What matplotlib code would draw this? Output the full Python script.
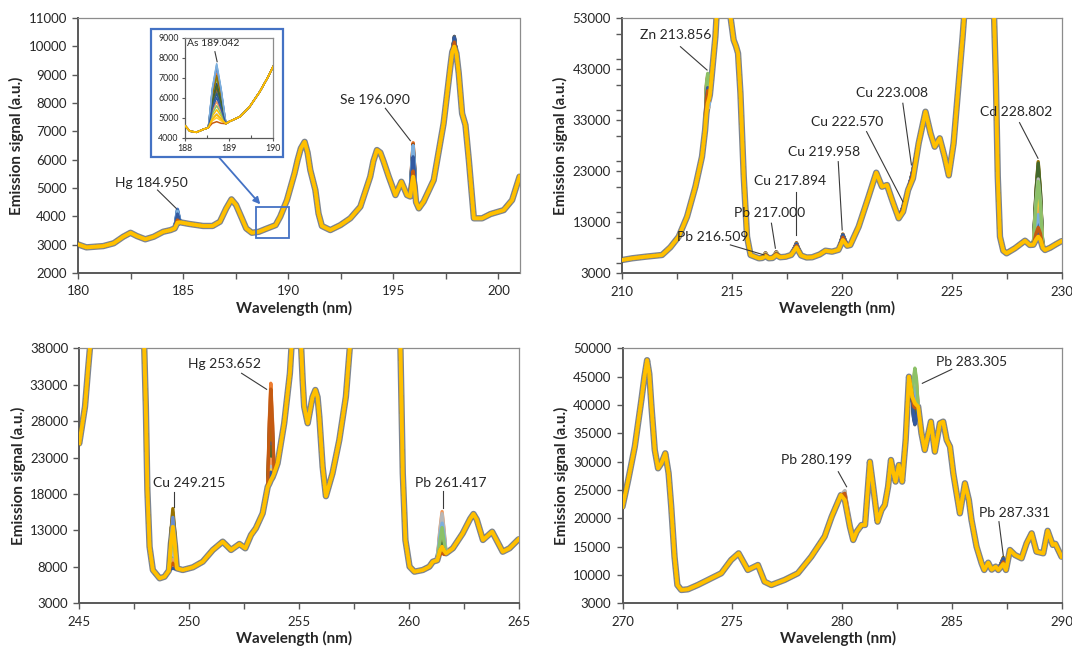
import matplotlib
matplotlib.use('Agg')
import matplotlib.pyplot as plt
from matplotlib.patches import Rectangle
from matplotlib.ticker import MultipleLocator, FixedLocator

plt.rcParams['font.family'] = ['Lato', 'DejaVu Sans']

# ---------------- data ----------------
sample_colors = ['#4472C4', '#ED7D31', '#A5A5A5', '#FFC000', '#5B9BD5', '#70AD47',
                 '#264478', '#9E480E', '#636363', '#997300', '#255E91', '#43682B',
                 '#698ED0', '#F1975A', '#B7B7B7', '#FFCD33', '#7CAFDD', '#8CC168',
                 '#335AA1', '#C55A11']
last_color = '#FFC000'

# --- panel 180-201 nm
wl_tl = [180.0, 180.4, 181.2, 181.7, 182.15, 182.5, 182.8, 183.2, 183.6, 184.05, 184.4, 184.6,
         184.73, 184.86, 185.3, 185.95, 186.4, 186.75, 187.05, 187.3, 187.52, 187.76, 188.0,
         188.27, 188.6, 189.0, 189.4, 189.62, 189.94, 190.3, 190.45, 190.6, 190.78, 190.92,
         191.05, 191.29, 191.44, 191.6, 192.0, 192.48, 192.95, 193.43, 193.9, 194.05, 194.22,
         194.38, 194.54, 194.78, 195.1, 195.38, 195.65, 195.8, 195.87, 195.94, 196.01, 196.08,
         196.21, 196.44, 196.92, 197.39, 197.71, 197.8, 197.9, 198.0, 198.11, 198.27, 198.43,
         198.59, 198.83, 199.22, 199.62, 200.25, 200.65, 201.0]
base_tl = [3010, 2905, 2950, 3050, 3280, 3420, 3305, 3190, 3280, 3455, 3515, 3575,
           3780, 3790, 3730, 3660, 3660, 3810, 4280, 4600, 4400, 3990, 3575,
           3420, 3455, 3575, 3690, 3990, 4575, 5520, 6000, 6400, 6630, 6250,
           5630, 4930, 4100, 3660, 3515, 3690, 3930, 4340, 5400, 5950, 6340,
           6250, 5930, 5400, 4750, 5220, 4750, 4700, 5080, 5400, 5080, 4500,
           4280, 4520, 5280, 7280, 9280, 9800, 9990, 9750, 9050, 7630, 7220,
           5990, 3930, 3930, 4080, 4220, 4575, 5400]
hg185 = [4250, 4050, 3950, 3900, 4150, 3980, 4100, 3900, 4000, 3950, 4200, 3880, 4120, 3850,
         3920, 3860, 4180, 3900, 4080, 3870]
se196 = [6300, 6600, 6150, 6000, 6450, 5900, 6350, 6550, 6050, 6250, 6400, 5800, 6200, 5700,
         5950, 5650, 6500, 5750, 6100, 5600]
se196_sh = [5620, 5800, 5530, 5440, 5710, 5380, 5650, 5770, 5470, 5590, 5680, 5320, 5560, 5260,
            5410, 5230, 5740, 5290, 5500, 5200]
band198 = [10300, 10250, 10200, 10150, 10250, 10200, 10350, 10300, 10350, 10200, 10300, 10250,
           10200, 10150, 10100, 10150, 10250, 10200, 10300, 10150]
peaks_tl = [(184.73, hg185), (195.94, se196), (195.87, se196_sh), (196.01, se196_sh),
            (197.9, band198)]

# --- inset 188-190 nm
wl_in = [188.0, 188.11, 188.26, 188.42, 188.53, 188.62, 188.72, 188.82, 188.93, 189.0, 189.25,
         189.47, 189.7, 189.89, 190.0]
base_in = [4600, 4330, 4270, 4420, 4500, 4930, 5150, 4930, 4700, 4800, 5050, 5550, 6300, 7050,
           7550]
as189 = [7500, 7200, 6900, 5400, 7650, 7000, 6700, 6500, 6300, 7100, 6200, 6600, 7550, 5800,
         5200, 5000, 7700, 5600, 6000, 4800]
as189_sh = [6340, 6160, 5980, 5080, 6430, 6040, 5860, 5740, 5620, 6100, 5560, 5800, 6370, 5320,
            4960, 4840, 6460, 5200, 5440, 4720]
peaks_in = [(188.72, as189), (188.62, as189_sh), (188.82, as189_sh)]

# --- panel 210-230 nm
wl_tr = [210.0, 210.46, 211.06, 211.82, 212.2, 212.58, 212.96, 213.34, 213.64, 213.78, 213.84,
         213.9, 213.96, 214.0, 214.08, 214.25, 214.35, 214.6, 214.85, 214.93, 215.08, 215.19,
         215.28, 215.39, 215.54, 215.69, 215.85, 216.23, 216.38, 216.53, 216.68, 216.85, 217.02,
         217.2, 217.45, 217.7, 217.94, 218.15, 218.4, 218.65, 219.0, 219.26, 219.56, 219.85,
         220.05, 220.25, 220.39, 220.77, 221.22, 221.57, 221.83, 222.06, 222.29, 222.59, 222.79,
         223.02, 223.24, 223.5, 223.81, 224.04, 224.23, 224.46, 224.68, 224.87, 225.09, 225.32,
         225.5, 225.65, 226.3, 226.9, 227.01, 227.1, 227.2, 227.35, 227.5, 227.88, 228.34,
         228.56, 228.72, 228.84, 228.94, 229.04, 229.15, 229.25, 229.48, 229.75, 230.0]
base_tr = [5600, 5940, 6250, 6590, 8100, 10180, 14100, 19980, 25860, 31000, 34300,
           36300, 37200, 38000, 41550, 49400, 57000, 90000, 58000, 53500, 48750, 47500,
           46140, 38300, 21940, 10180, 6590, 5940, 6000, 6400, 5950, 6000, 6590,
           6150, 6250, 6600, 8100, 6500, 6100, 6140, 6700, 7430, 7240, 7600,
           9530, 8400, 8550, 12140, 18020, 22730, 19980, 20310, 17370, 13780, 15080,
           19330, 21630, 28490, 34690, 30450, 27820, 29470, 25860, 22200, 28490, 40260,
           49390, 58000, 95000, 58000, 41550, 21940, 10180, 7430, 6920, 7900, 9390,
           8550, 8600, 9600, 10200, 9600, 8000, 7570, 8000, 8700, 9300]
zn214 = [40500, 41800, 39000, 38600, 40200, 39600, 41000, 41600, 37800, 40000, 39200, 38300,
         41300, 39800, 37500, 40800, 38000, 42200, 39400, 38800]
zn214_sh = [38500, 39800, 37000, 36600, 38200, 37600, 39000, 39600, 35800, 38000, 37200, 36300,
            39300, 37800, 35500, 38800, 36000, 40200, 37400, 36800]
pb216 = [6900, 7050, 6800, 6700, 6950, 6750, 6850, 7000, 6650, 6900, 6600, 6800, 6950, 6700,
         6550, 6850, 6600, 6750, 6700, 6650]
pb217 = [7100, 7250, 7000, 6900, 7150, 6950, 7050, 7200, 6850, 7100, 6800, 7000, 7150, 6900,
         6750, 7050, 6800, 6950, 6900, 6850]
cu218 = [8700, 9000, 8400, 8600, 8800, 8300, 8900, 8500, 8700, 8950, 8200, 8600, 8800, 8400,
         8250, 8550, 8650, 8350, 8750, 8450]
cu220 = [10400, 10700, 10000, 10200, 10500, 9900, 10600, 10100, 10300, 10650, 9800, 10200,
         10450, 10000, 9750, 10150, 10350, 9950, 10550, 10050]
cu2226 = [15800, 16100, 15500, 15600, 15900, 15400, 16000, 15500, 15700, 16050, 15300, 15600,
          15850, 15450, 15350, 15650, 15750, 15400, 15950, 15550]
cu223 = [22800, 23300, 22300, 22500, 23000, 22200, 23200, 22400, 22700, 23250, 22100, 22500,
         22900, 22300, 22000, 22600, 22800, 22200, 23100, 22400]
cd229 = [22500, 15500, 20500, 18500, 23500, 12500, 24000, 11500, 19500, 24900, 13500, 24600,
         17500, 16500, 21500, 19000, 14500, 21000, 11000, 12000]
cd229_sh = [17600, 13050, 16300, 15000, 18250, 11100, 18600, 10450, 15650, 19200, 11750, 18950,
            14350, 13700, 16950, 15300, 12400, 16600, 10100, 10800]
peaks_tr = [(213.9, zn214), (213.84, zn214_sh), (213.96, zn214_sh), (216.53, pb216),
            (217.02, pb217), (217.94, cu218), (220.05, cu220), (222.79, cu2226), (223.24, cu223),
            (228.94, cd229), (228.84, cd229_sh), (229.04, cd229_sh)]

# --- panel 245-265 nm
wl_bl = [245.0, 245.26, 245.41, 245.6, 246.5, 247.5, 247.94, 248.03, 248.1, 248.2, 248.35,
         248.66, 248.88, 249.08, 249.17, 249.26, 249.35, 249.44, 249.71, 250.17, 250.62, 251.08,
         251.53, 251.91, 252.29, 252.56, 252.82, 253.04, 253.35, 253.58, 253.65, 253.72, 253.8,
         253.87, 254.03, 254.33, 254.59, 254.8, 255.0, 255.17, 255.24, 255.4, 255.62, 255.75,
         255.85, 255.93, 256.08, 256.23, 256.53, 256.84, 257.14, 257.5, 258.5, 259.58, 259.66,
         259.73, 259.85, 260.04, 260.26, 260.64, 260.94, 261.1, 261.3, 261.42, 261.52, 261.61,
         261.7, 262.01, 262.46, 262.8, 262.95, 263.1, 263.38, 263.8, 264.28, 264.59, 265.0]
base_bl = [24960, 29990, 35480, 42000, 80000, 80000, 40000, 29990, 18550, 10770, 7570,
           6430, 6650, 7500, 11160, 13500, 11160, 7800, 7570, 7940, 8710, 10320,
           11460, 10320, 11140, 10550, 12380, 13300, 15350, 19000, 19400, 19900, 20300,
           20840, 22220, 27710, 34570, 45000, 45000, 33650, 29990, 27710, 31300, 32280,
           31300, 28610, 21750, 17700, 20840, 25410, 31360, 45000, 80000, 45000, 32280,
           20840, 11690, 8030, 7340, 7570, 8030, 8710, 8900, 10220, 10770, 10220,
           9860, 10550, 12600, 14600, 15260, 14500, 11690, 12830, 10080, 10550, 11780]
cu249 = [15000, 9500, 11000, 12600, 14500, 10000, 14000, 8800, 15500, 16000, 11500, 12000,
         14800, 9000, 10500, 13000, 8200, 12200, 7800, 8500]
cu249_sh = [12060, 8760, 9660, 10620, 11760, 9060, 11460, 8340, 12360, 12660, 9960, 10260,
            11940, 8460, 9360, 10860, 7980, 10380, 7740, 8160]
hg254 = [27600, 33200, 31600, 26500, 24000, 25600, 20400, 23300, 30400, 29300, 25000, 24500,
         22300, 22800, 21800, 21300, 20900, 20600, 21000, 32400]
hg254_sh = [24560, 27920, 26960, 23900, 22400, 23360, 20240, 21980, 26240, 25580, 23000, 22700,
            21380, 21680, 21080, 20780, 20540, 20360, 20600, 27440]
pb261 = [13200, 14600, 12800, 11900, 12400, 13800, 11000, 12000, 11500, 13000, 10500, 11200,
         14200, 15600, 15300, 10200, 14000, 13400, 10800, 9900]
pb261_sh = [11680, 12520, 11440, 10900, 11200, 12040, 10360, 10960, 10660, 11560, 10060, 10480,
            12280, 13120, 12940, 9880, 12160, 11440, 10240, 9700]
peaks_bl = [(249.26, cu249), (249.17, cu249_sh), (249.35, cu249_sh),
            (253.72, hg254), (253.65, hg254_sh), (253.8, hg254_sh),
            (261.52, pb261), (261.42, pb261_sh), (261.61, pb261_sh)]

# --- panel 270-290 nm
wl_br = [270.0, 270.26, 270.56, 270.86, 271.0, 271.12, 271.22, 271.32, 271.47, 271.62, 271.77,
         271.95, 272.1, 272.22, 272.37, 272.5, 272.68, 272.98, 273.43, 273.89, 274.5, 274.95,
         275.29, 275.71, 276.17, 276.47, 276.78, 277.38, 277.99, 278.6, 279.21, 279.53, 279.95,
         280.13, 280.36, 280.51, 280.67, 280.89, 281.05, 281.27, 281.42, 281.62, 281.8, 281.95,
         282.1, 282.23, 282.33, 282.44, 282.59, 282.74, 282.9, 283.05, 283.2, 283.26, 283.32,
         283.39, 283.47, 283.62, 283.77, 284.05, 284.23, 284.46, 284.61, 284.77, 284.92, 285.07,
         285.37, 285.6, 285.78, 285.9, 286.13, 286.36, 286.48, 286.66, 286.82, 287.0, 287.12,
         287.35, 287.47, 287.65, 287.88, 288.18, 288.41, 288.64, 288.86, 289.17, 289.37, 289.6,
         289.72, 290.0]
base_br = [22050, 26760, 32640, 40880, 45000, 47900, 45500, 39700, 32050, 28820, 29700,
           31470, 27940, 22050, 13230, 8230, 7350, 7470, 8230, 9120, 10300, 12650,
           13820, 10880, 11760, 8820, 8230, 9120, 10300, 13230, 16800, 20290, 24100,
           23230, 18520, 16170, 17640, 18820, 18820, 29990, 25580, 19400, 21470, 22350,
           25580, 30290, 28230, 26470, 29410, 26470, 33820, 44990, 41460, 40900, 40300,
           40000, 39700, 35000, 32050, 37060, 31760, 36770, 37060, 33820, 32640, 27940,
           20880, 26180, 23230, 19700, 14990, 12060, 10880, 12170, 10940, 11470, 10880,
           11940, 10880, 14410, 13530, 12940, 15590, 17350, 14110, 13820, 17800, 15300,
           15500, 13230]
pb280 = [24200, 24700, 24400, 23800, 24300, 23900, 24000, 24500, 23600, 24100, 23700, 24200,
         24600, 24800, 24900, 23900, 24300, 24000, 23800, 24400]
pb283 = [43500, 45200, 41000, 38500, 42000, 37500, 36800, 39000, 36500, 38000, 37000, 37300,
         42500, 46000, 44000, 40000, 43000, 46500, 36600, 39500]
pb283_sh = [42600, 43790, 40850, 39100, 41550, 38400, 37910, 39450, 37700, 38750, 38050, 38260,
            41900, 44350, 42950, 40150, 42250, 44700, 37770, 39800]
pb287 = [12700, 13000, 12500, 12300, 12800, 12200, 12900, 12400, 12600, 13100, 12100, 12500,
         12700, 12300, 12200, 12600, 12800, 12400, 12900, 12300]
peaks_br = [(280.13, pb280), (283.32, pb283), (283.26, pb283_sh), (283.39, pb283_sh),
            (287.35, pb287)]

# tick labels
yticks_tl = [2000, 3000, 4000, 5000, 6000, 7000, 8000, 9000, 10000, 11000]
yticks_tr = [3000, 13000, 23000, 33000, 43000, 53000]
yticks_bl = [3000, 8000, 13000, 18000, 23000, 28000, 33000, 38000]
yticks_br = [5000, 10000, 15000, 20000, 25000, 30000, 35000, 40000, 45000, 50000]
ylabels_br = ['3000', '10000', '15000', '20000', '25000', '30000', '35000', '40000', '45000', '50000']

# annotations: label, text position, leader start, leader end
notes_tl = [('Hg 184.950', (181.76, 5175), (183.78, 4930), (184.67, 4282)),
            ('Se 196.090', (192.48, 8105), (194.62, 7812), (195.81, 6669))]
notes_tr = [('Zn 213.856', (210.83, 49630), (212.66, 47430), (213.87, 42860)),
            ('Pb 216.509', (212.51, 10193), (214.93, 8567), (216.46, 6607)),
            ('Pb 217.000', (215.09, 14780), (216.8, 12820), (216.98, 7920)),
            ('Cu 217.894', (216.0, 21150), (217.94, 19010), (217.94, 10540)),
            ('Cu 219.958', (217.56, 26850), (219.84, 24890), (220.02, 11500)),
            ('Cu 222.570', (218.61, 32580), (221.13, 30780), (222.78, 17050)),
            ('Cu 223.008', (220.67, 38420), (222.78, 36340), (223.17, 24250)),
            ('Cd 228.802', (226.31, 34600), (228.09, 32540), (228.93, 25560))]
notes_bl = [('Hg 253.652', (249.96, 35845), (252.39, 34570), (253.53, 32370)),
            ('Cu 249.215', (248.34, 19470), (249.31, 18320), (249.31, 16260)),
            ('Pb 261.417', (260.28, 19470), (261.54, 18410), (261.54, 16040))]
notes_br = [('Pb 280.199', (277.22, 30230), (279.83, 28220), (280.21, 25570)),
            ('Pb 283.305', (284.27, 47640), (285.0, 46290), (283.66, 43820)),
            ('Pb 287.331', (286.24, 20880), (287.15, 19400), (287.35, 13340))]
notes_in = [('As 189.042', (188.04, 8720), (188.68, 8300), (188.73, 7800))]

# ---------------- drawing ----------------
W, H = 1072, 650
fig = plt.figure(figsize=(W / 100, H / 100), dpi=100)
fig.patch.set_facecolor('white')


def px_axes(left, top, right, bottom, **kw):
    return fig.add_axes([left / W, 1 - bottom / H, (right - left) / W, (bottom - top) / H], **kw)


def series(wl, base, peaks, k):
    y = list(base)
    for pw, vals in peaks:
        y[wl.index(pw)] = vals[k]
    return y


TXT = '#262626'


def draw_panel(ax, wl, base, peaks, xlim, ylim, yticks, ylabels=None, yminor=None,
               notes=(), halo=True, lw=2.4, lw_last=2.8, note_size=10):
    if halo:
        ax.plot(wl, base, color='#7d8591', lw=lw_last + 1.8, solid_joinstyle='round',
                solid_capstyle='round', zorder=1)
    for k, c in enumerate(sample_colors):
        ax.plot(wl, series(wl, base, peaks, k), color=c, lw=lw, zorder=2,
                solid_joinstyle='round')
    ax.plot(wl, base, color=last_color, lw=lw_last, zorder=3, solid_joinstyle='round')
    ax.set_xlim(*xlim)
    ax.set_ylim(*ylim)
    ax.yaxis.set_major_locator(FixedLocator(yticks))
    if ylabels is not None:
        ax.set_yticklabels(ylabels)
    else:
        ax.set_yticklabels([str(v) for v in yticks])
    if yminor is not None:
        ax.yaxis.set_minor_locator(MultipleLocator(yminor))
    for sp in ['top', 'right']:
        ax.spines[sp].set_color('#8c8c8c')
        ax.spines[sp].set_linewidth(0.9)
    for sp in ['left', 'bottom']:
        ax.spines[sp].set_color('#595959')
        ax.spines[sp].set_linewidth(1.4)
    for label, tpos, l0, l1 in notes:
        ax.text(tpos[0], tpos[1], label, ha='left', va='center', fontsize=note_size,
                color=TXT, zorder=6)
        ax.plot([l0[0], l1[0]], [l0[1], l1[1]], color='#3a3a3a', lw=0.8, zorder=6)


def style_main(ax, xmajor=5, xminor=2.5):
    ax.xaxis.set_major_locator(MultipleLocator(xmajor))
    ax.xaxis.set_minor_locator(MultipleLocator(xminor))
    ax.tick_params(axis='both', which='both', direction='out', length=4, width=1.0,
                   color='#595959', labelsize=9.5, labelcolor=TXT)
    ax.tick_params(axis='y', pad=4)
    ax.tick_params(axis='x', pad=5)
    ax.set_xlabel('Wavelength (nm)', fontsize=11, fontweight='bold', color=TXT)
    ax.set_ylabel('Emission signal (a.u.)', fontsize=11, fontweight='bold', color=TXT)
    ax.xaxis.set_label_coords(0.49, -0.11)
    ax.yaxis.set_label_coords(-0.122, 0.5)


ax_tl = px_axes(78, 18, 519.5, 273)
draw_panel(ax_tl, wl_tl, base_tl, peaks_tl, (180, 201), (2000, 11000), yticks_tl, notes=notes_tl)
style_main(ax_tl)

ax_tr = px_axes(622, 18.3, 1061.5, 273.3)
draw_panel(ax_tr, wl_tr, base_tr, peaks_tr, (210, 230), (3000, 53000), yticks_tr, yminor=5000,
           notes=notes_tr)
style_main(ax_tr)

ax_bl = px_axes(79.3, 348.3, 518.5, 603.3)
draw_panel(ax_bl, wl_bl, base_bl, peaks_bl, (245, 265), (3000, 38000), yticks_bl, notes=notes_bl)
style_main(ax_bl)

ax_br = px_axes(622.5, 348.3, 1061.5, 603.3)
draw_panel(ax_br, wl_br, base_br, peaks_br, (270, 290), (5000, 50000), yticks_br,
           ylabels=ylabels_br, notes=notes_br)
style_main(ax_br)

# zoom box in main panel + arrow
ax_tl.add_patch(Rectangle((188.48, 3245), 190.05 - 188.48, 4340 - 3245, fill=False,
                          edgecolor='#4472C4', lw=1.3, zorder=7))
ax_tl.annotate('', xy=(188.67, 4424), xytext=(186.68, 6104),
               arrowprops=dict(arrowstyle='-|>', color='#4472C4', lw=1.3, mutation_scale=10,
                               shrinkA=0, shrinkB=0), zorder=7)

# inset frame
fig.patches.append(Rectangle((151 / W, 1 - 157 / H), 132 / W, 128 / H, transform=fig.transFigure,
                             facecolor='white', edgecolor='#4472C4', lw=1.6, zorder=4))
ax_in = px_axes(185, 37.7, 273, 137.7, zorder=5)
draw_panel(ax_in, wl_in, base_in, peaks_in, (188, 190), (4000, 9000),
           [4000, 5000, 6000, 7000, 8000, 9000], notes=notes_in, halo=False, lw=1.1,
           lw_last=1.3, note_size=7.5)
ax_in.xaxis.set_major_locator(FixedLocator([188, 189, 190]))
ax_in.set_xticklabels(['188', '189', '190'])
ax_in.xaxis.set_minor_locator(MultipleLocator(0.5))
ax_in.tick_params(axis='both', which='both', labelsize=6.3, labelcolor=TXT, length=2.5,
                  width=0.8, color='#595959', pad=2)
ax_in.tick_params(axis='x', which='minor', direction='in')
for sp in ax_in.spines.values():
    sp.set_linewidth(0.9)

fig.savefig('out.png', dpi=100, facecolor='white')
